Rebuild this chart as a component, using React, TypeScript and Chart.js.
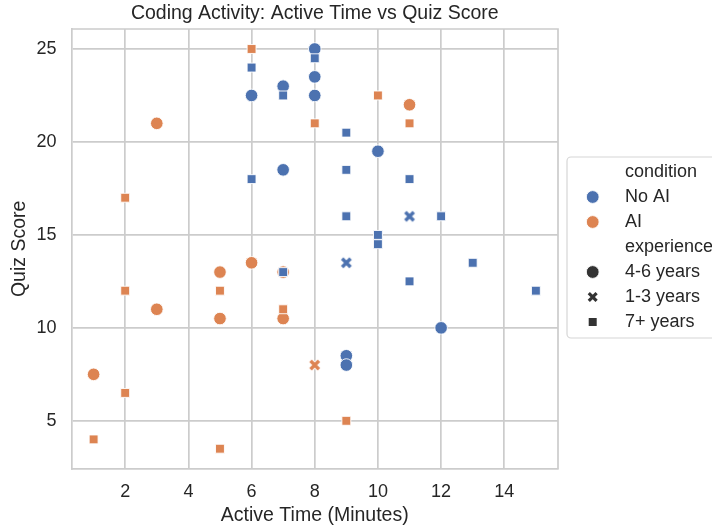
import React, { useEffect, useRef } from "react";
import { Chart, registerables } from "chart.js";

Chart.register(...registerables);

const TITLE = "Coding Activity: Active Time vs Quiz Score";
const X_LABEL = "Active Time (Minutes)";
const Y_LABEL = "Quiz Score";
const X_TICKS = [2, 4, 6, 8, 10, 12, 14];
const Y_TICKS = [5, 10, 15, 20, 25];
const CONDITION_TITLE = "condition";
const CONDITIONS = ["No AI", "AI"];
const EXPERIENCE_TITLE = "experience";
const EXPERIENCE = ["4-6 years", "1-3 years", "7+ years"];

// No AI
const noAiMidX = [6, 7, 7, 8, 8, 8, 10, 9, 9, 12];
const noAiMidY = [22.5, 23, 18.5, 25, 23.5, 22.5, 19.5, 8.5, 8, 10];
const noAiJuniorX = [11, 9];
const noAiJuniorY = [16, 13.5];
const noAiSeniorX = [6, 7, 8, 6, 9, 9, 9, 10, 10, 11, 12, 11, 13, 15, 7];
const noAiSeniorY = [24, 22.5, 24.5, 18, 20.5, 18.5, 16, 15, 14.5, 18, 16, 12.5, 13.5, 12, 13];

// AI
const aiMidX = [3, 11, 6, 5, 3, 5, 7, 1, 7];
const aiMidY = [21, 22, 13.5, 13, 11, 10.5, 10.5, 7.5, 13];
const aiJuniorX = [8];
const aiJuniorY = [8];
const aiSeniorX = [6, 8, 10, 11, 2, 2, 5, 7, 2, 1, 5, 9];
const aiSeniorY = [25, 21, 22.5, 21, 17, 12, 12, 11, 6.5, 4, 3.5, 5];

const BLUE = "#4C72B0";
const ORANGE = "#DD8452";
const DARK = "#333333";
const TEXT = "#262626";
const GRID = "#cccccc";
const FONT = "'Liberation Sans', Arial, sans-serif";

const toPts = (xs: number[], ys: number[]) => xs.map((x, i) => ({ x, y: ys[i] }));

function drawXPath(g: CanvasRenderingContext2D, cx: number, cy: number, arm: number) {
  g.beginPath();
  g.moveTo(cx - arm, cy - arm);
  g.lineTo(cx + arm, cy + arm);
  g.moveTo(cx + arm, cy - arm);
  g.lineTo(cx - arm, cy + arm);
}

function makeX(color: string, arm = 4.2, w = 3.4, edge = 0.9): HTMLCanvasElement {
  const size = 16;
  const c = document.createElement("canvas");
  c.width = size;
  c.height = size;
  const g = c.getContext("2d")!;
  const m = size / 2;
  g.lineCap = "butt";
  if (edge > 0) {
    g.strokeStyle = "#ffffff";
    g.lineWidth = w + 2 * edge;
    drawXPath(g, m, m, arm + edge * 0.7);
    g.stroke();
  }
  g.strokeStyle = color;
  g.lineWidth = w;
  drawXPath(g, m, m, arm);
  g.stroke();
  return c;
}

const frameAndLegend = {
  id: "frameAndLegend",
  afterDatasetsDraw(chart: any) {
    const { ctx, chartArea } = chart;
    ctx.save();
    // top & right frame
    ctx.strokeStyle = GRID;
    ctx.lineWidth = 1.7;
    ctx.beginPath();
    ctx.moveTo(chartArea.left, chartArea.top);
    ctx.lineTo(chartArea.right, chartArea.top);
    ctx.lineTo(chartArea.right, chartArea.bottom);
    ctx.stroke();
    ctx.restore();
  },
  afterDraw(chart: any) {
    const { ctx, chartArea } = chart;
    ctx.save();
    // title centred over the plot area
    ctx.fillStyle = TEXT;
    ctx.font = `19.5px ${FONT}`;
    ctx.textBaseline = "middle";
    ctx.textAlign = "center";
    ctx.fillText(TITLE, (chartArea.left + chartArea.right) / 2, 13.5);

    // legend box
    const bx = 567, by = 157, bw = 160, bh = 181, r = 4;
    ctx.beginPath();
    ctx.moveTo(bx + r, by);
    ctx.lineTo(bx + bw - r, by);
    ctx.arcTo(bx + bw, by, bx + bw, by + r, r);
    ctx.lineTo(bx + bw, by + bh - r);
    ctx.arcTo(bx + bw, by + bh, bx + bw - r, by + bh, r);
    ctx.lineTo(bx + r, by + bh);
    ctx.arcTo(bx, by + bh, bx, by + bh - r, r);
    ctx.lineTo(bx, by + r);
    ctx.arcTo(bx, by, bx + r, by, r);
    ctx.closePath();
    ctx.fillStyle = "rgba(255,255,255,0.85)";
    ctx.fill();
    ctx.strokeStyle = "#d6d6d6";
    ctx.lineWidth = 1.2;
    ctx.stroke();

    const mx = 592.7;
    const tx = 625;
    const rows = [172, 197, 222, 247, 272, 297, 322];
    const labels = [CONDITION_TITLE, CONDITIONS[0], CONDITIONS[1], EXPERIENCE_TITLE, EXPERIENCE[0], EXPERIENCE[1], EXPERIENCE[2]];
    ctx.fillStyle = TEXT;
    ctx.font = `18px ${FONT}`;
    ctx.textBaseline = "middle";
    ctx.textAlign = "left";
    labels.forEach((t, i) => ctx.fillText(t, tx, rows[i]));

    const circle = (y: number, color: string) => {
      ctx.beginPath();
      ctx.arc(mx, y, 6.4, 0, Math.PI * 2);
      ctx.fillStyle = color;
      ctx.fill();
      ctx.strokeStyle = "#ffffff";
      ctx.lineWidth = 0.9;
      ctx.stroke();
    };
    circle(rows[1], BLUE);
    circle(rows[2], ORANGE);
    circle(rows[4], DARK);
    ctx.lineCap = "butt";
    ctx.strokeStyle = DARK;
    ctx.lineWidth = 3.2;
    drawXPath(ctx, mx, rows[5], 3.9);
    ctx.stroke();
    ctx.fillStyle = DARK;
    ctx.fillRect(mx - 4, rows[6] - 4, 8, 8);
    ctx.restore();
  },
};

export default function App() {
  const ref = useRef<HTMLCanvasElement>(null);

  useEffect(() => {
    if (!ref.current) return;
    const xBlue = makeX(BLUE);
    const xOrange = makeX(ORANGE);
    const circleDs = (label: string, data: any[], color: string, order: number) => ({
      label,
      data,
      pointStyle: "circle",
      pointRadius: 6.3,
      backgroundColor: color,
      borderColor: "#ffffff",
      borderWidth: 0.9,
      order,
    });
    const squareDs = (label: string, data: any[], color: string, order: number) => ({
      label,
      data,
      pointStyle: "rect",
      pointRadius: 6.3,
      backgroundColor: color,
      borderColor: "#ffffff",
      borderWidth: 0.9,
      order,
    });
    const crossDs = (label: string, data: any[], img: HTMLCanvasElement, order: number) => ({
      label,
      data,
      pointStyle: img,
      pointRadius: 6,
      backgroundColor: "transparent",
      borderColor: "transparent",
      order,
    });

    const chart = new Chart(ref.current, {
      type: "scatter",
      data: {
        datasets: [
          circleDs(`${CONDITIONS[1]} ${EXPERIENCE[0]}`, toPts(aiMidX, aiMidY), ORANGE, 6),
          circleDs(`${CONDITIONS[0]} ${EXPERIENCE[0]}`, toPts(noAiMidX, noAiMidY), BLUE, 5),
          squareDs(`${CONDITIONS[1]} ${EXPERIENCE[2]}`, toPts(aiSeniorX, aiSeniorY), ORANGE, 4),
          squareDs(`${CONDITIONS[0]} ${EXPERIENCE[2]}`, toPts(noAiSeniorX, noAiSeniorY), BLUE, 3),
          crossDs(`${CONDITIONS[1]} ${EXPERIENCE[1]}`, toPts(aiJuniorX, aiJuniorY), xOrange, 2),
          crossDs(`${CONDITIONS[0]} ${EXPERIENCE[1]}`, toPts(noAiJuniorX, noAiJuniorY), xBlue, 1),
        ] as any,
      },
      options: {
        responsive: false,
        animation: false,
        events: [],
        devicePixelRatio: 1,
        layout: { padding: { left: 0, right: 154, top: 29, bottom: 0 } },
        plugins: {
          legend: { display: false },
          tooltip: { enabled: false },
          title: { display: false },
        },
        scales: {
          x: {
            type: "linear",
            min: 0.3,
            max: 15.7,
            afterBuildTicks: (axis: any) => {
              axis.ticks = X_TICKS.map((v) => ({ value: v }));
            },
            afterFit: (s: any) => {
              s.height = 58.3;
            },
            grid: { color: GRID, lineWidth: 1.7, drawTicks: false },
            border: { display: true, color: GRID, width: 1.7 },
            ticks: {
              color: TEXT,
              font: { family: FONT, size: 18 },
              padding: 12.5,
              maxRotation: 0,
            },
            title: {
              display: true,
              text: X_LABEL,
              color: TEXT,
              font: { family: FONT, size: 19.5 },
              padding: { top: 0, bottom: 0 },
            },
          },
          y: {
            type: "linear",
            min: 2.425,
            max: 26.075,
            afterBuildTicks: (axis: any) => {
              axis.ticks = Y_TICKS.map((v) => ({ value: v }));
            },
            afterFit: (s: any) => {
              s.width = 71.5;
            },
            grid: { color: GRID, lineWidth: 1.7, drawTicks: false },
            border: { display: true, color: GRID, width: 1.7 },
            ticks: {
              color: TEXT,
              font: { family: FONT, size: 18 },
              padding: 15,
            },
            title: {
              display: true,
              text: Y_LABEL,
              color: TEXT,
              font: { family: FONT, size: 19.5 },
              padding: { top: 8, bottom: 0 },
            },
          },
        },
      } as any,
      plugins: [frameAndLegend],
    });
    return () => chart.destroy();
  }, []);

  return (
    <div style={{ position: "absolute", left: 0, top: 0, width: 712, height: 527, background: "#ffffff" }}>
      <canvas ref={ref} width={712} height={527} style={{ display: "block", width: 712, height: 527 }} />
    </div>
  );
}
